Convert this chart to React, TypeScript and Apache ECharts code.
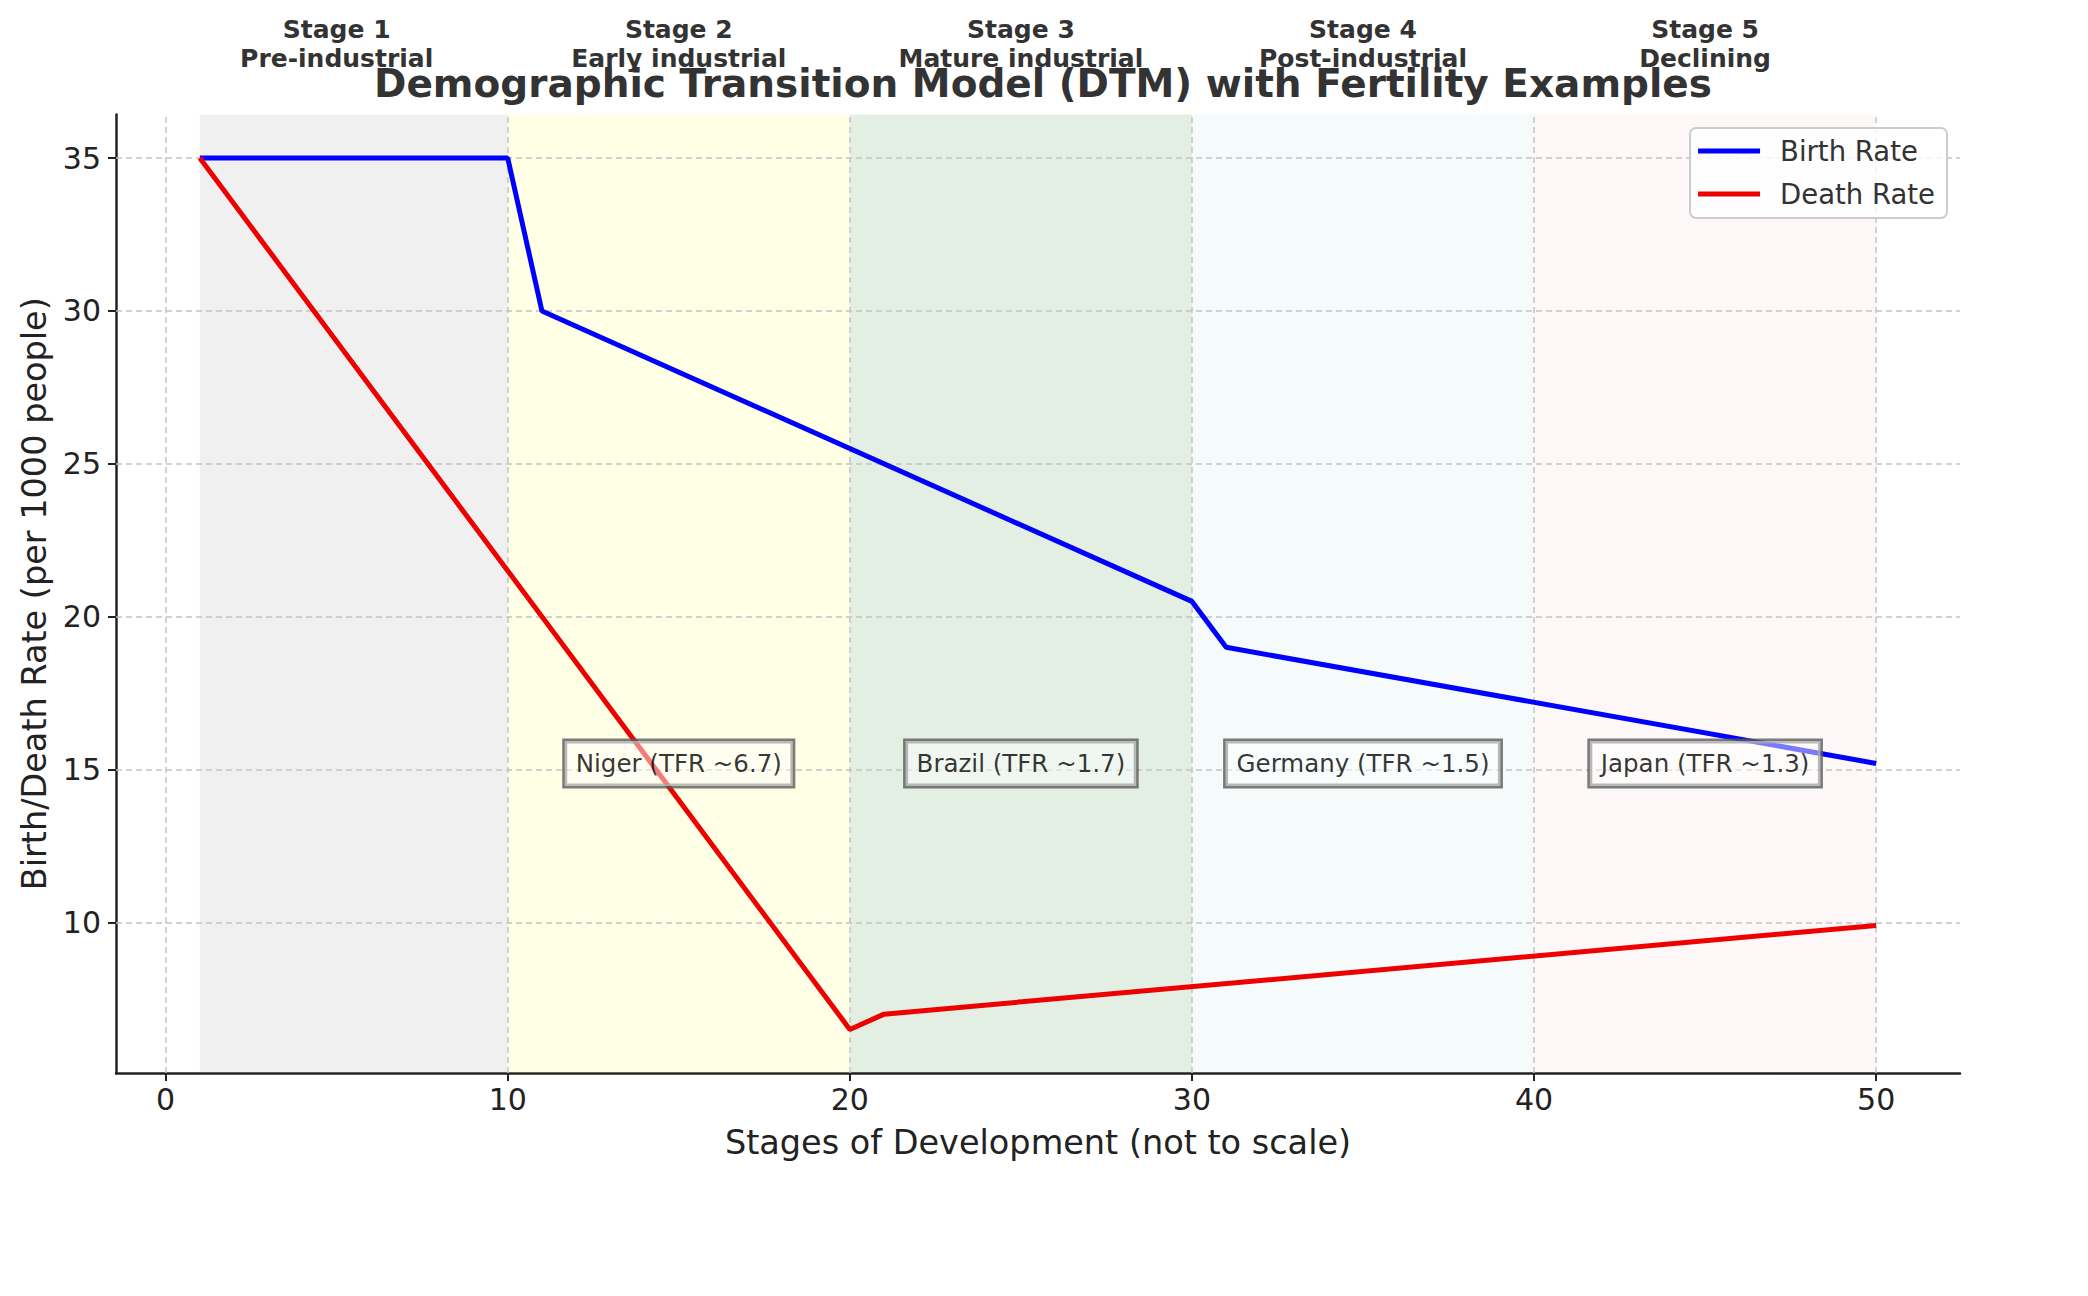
import React, { useEffect, useRef } from "react";
import * as echarts from "echarts";

const birthX = [1, 10, 11, 30, 31, 50];
const birthY = [35, 35, 30, 20.5, 19, 15.2];
const deathX = [1, 20, 21, 50];
const deathY = [35, 6.5, 7, 9.9];

const stageRanges = [
  [1, 10],
  [10, 20],
  [20, 30],
  [30, 40],
  [40, 50],
];
const stageCenters = [5, 15, 25, 35, 45];
const stageColors = [
  "rgba(128,128,128,0.12)",
  "rgba(255,255,0,0.10)",
  "rgba(0,110,0,0.11)",
  "rgba(0,160,160,0.04)",
  "rgba(220,0,0,0.03)",
];
const stageTitles = ["Stage 1", "Stage 2", "Stage 3", "Stage 4", "Stage 5"];
const stageNames = ["Pre-industrial", "Early industrial", "Mature industrial", "Post-industrial", "Declining"];

const exampleX = [15, 25, 35, 45];
const exampleY = [15, 15, 15, 15];
const exampleLabels = ["Niger (TFR ~6.7)", "Brazil (TFR ~1.7)", "Germany (TFR ~1.5)", "Japan (TFR ~1.3)"];

const xTicks = [0, 10, 20, 30, 40, 50];
const yTicks = [10, 15, 20, 25, 30, 35];

const FONT = "DejaVu Sans";

export default function App() {
  const ref = useRef<HTMLDivElement>(null);
  useEffect(() => {
    if (!ref.current) return;
    const chart = echarts.init(ref.current, null, { renderer: "svg" });
    const option: any = {
      animation: false,
      backgroundColor: "#ffffff",
      title: {
        text: "Demographic Transition Model (DTM) with Fertility Examples",
        left: 1038,
        textAlign: "center",
        top: 59,
        textStyle: { fontFamily: FONT, fontSize: 39, fontWeight: "bold", color: "#333333" },
      },
      grid: { left: 116, right: 128, top: 114.5, bottom: 223, containLabel: false },
      legend: {
        right: 141,
        top: 128,
        orient: "vertical",
        itemWidth: 62,
        itemHeight: 5,
        itemGap: 15,
        padding: [9, 12, 10, 8],
        backgroundColor: "rgba(255,255,255,0.8)",
        borderColor: "#cccccc",
        borderWidth: 2,
        borderRadius: 6,
        data: [
          { name: "Birth Rate", icon: "rect" },
          { name: "Death Rate", icon: "rect" },
        ],
        textStyle: { fontFamily: FONT, fontSize: 27.5, color: "#333333", padding: [0, 0, 0, 15] },
      },
      xAxis: {
        type: "value",
        min: -1.45,
        max: 52.45,
        name: "Stages of Development (not to scale)",
        nameLocation: "middle",
        nameGap: 52,
        nameTextStyle: { fontFamily: FONT, fontSize: 33.5, color: "#222222" },
        axisLine: { show: true, onZero: false, lineStyle: { color: "#222222", width: 2.5 } },
        axisTick: { show: true, inside: false, length: 8, customValues: xTicks, lineStyle: { color: "#222222", width: 2 } },
        axisLabel: { show: true, customValues: xTicks, margin: 11, fontFamily: FONT, fontSize: 30, color: "#222222" },
        splitLine: { show: false },
      },
      yAxis: {
        type: "value",
        min: 5.075,
        max: 36.425,
        name: "Birth/Death Rate (per 1000 people)",
        nameLocation: "middle",
        nameGap: 64,
        nameTextStyle: { fontFamily: FONT, fontSize: 33.5, color: "#222222" },
        axisLine: { show: true, onZero: false, lineStyle: { color: "#222222", width: 2.5 } },
        axisTick: { show: true, inside: false, length: 8, customValues: yTicks, lineStyle: { color: "#222222", width: 2 } },
        axisLabel: { show: true, customValues: yTicks, margin: 15, fontFamily: FONT, fontSize: 30, color: "#222222" },
        splitLine: { show: false },
      },
      series: [
        {
          name: "stages",
          type: "line",
          data: [],
          z: 1,
          silent: true,
          markArea: {
            silent: true,
            z: 1,
            data: stageRanges.map((r, i) => [
              { xAxis: r[0], itemStyle: { color: stageColors[i] } },
              { xAxis: r[1] },
            ]),
          },
        },
        {
          name: "grid",
          type: "line",
          data: [],
          z: 2,
          silent: true,
          markLine: {
            silent: true,
            z: 2,
            symbol: "none",
            label: { show: false },
            lineStyle: { type: [6, 4], color: "#c4c4c4", width: 1.5 },
            data: [...xTicks.map((v) => ({ xAxis: v })), ...yTicks.map((v) => ({ yAxis: v }))],
          },
        },
        {
          name: "Birth Rate",
          type: "line",
          z: 3,
          showSymbol: false,
          symbol: "none",
          color: "#0000ff",
          lineStyle: { color: "#0000ff", width: 5 },
          data: birthX.map((x, i) => [x, birthY[i]]),
        },
        {
          name: "Death Rate",
          type: "line",
          z: 3,
          showSymbol: false,
          symbol: "none",
          color: "#ee0000",
          lineStyle: { color: "#ee0000", width: 5 },
          data: deathX.map((x, i) => [x, deathY[i]]),
        },
        {
          name: "examples",
          type: "scatter",
          z: 5,
          symbolSize: 0,
          silent: true,
          data: exampleX.map((x, i) => [x, exampleY[i]]),
          label: {
            show: true,
            position: "inside",
            formatter: (p: any) => exampleLabels[p.dataIndex],
            fontFamily: FONT,
            fontSize: 24.5,
            color: "#000000",
            backgroundColor: "rgba(255,255,255,0.6)",
            borderColor: "#5a5a5a",
            borderWidth: 2.5,
            padding: [10, 11, 10, 11],
            offset: [0, -6],
          },
        },
      ],
    };
    chart.setOption(option);
    const graphics: any[] = [];
    stageCenters.forEach((c, i) => {
      const cx = chart.convertToPixel({ xAxisIndex: 0 }, c);
      graphics.push({
        type: "text",
        x: cx,
        y: 29.5,
        style: {
          text: stageTitles[i],
          fontFamily: FONT,
          fontSize: 25,
          fontWeight: "bold",
          fill: "#333333",
          textAlign: "center",
          textVerticalAlign: "middle",
        },
      });
      graphics.push({
        type: "text",
        x: cx,
        y: 58.5,
        style: {
          text: stageNames[i],
          fontFamily: FONT,
          fontSize: 25,
          fontWeight: "bold",
          fill: "#333333",
          textAlign: "center",
          textVerticalAlign: "middle",
        },
      });
    });
    chart.setOption({ graphic: graphics });
    return () => chart.dispose();
  }, []);
  return <div ref={ref} style={{ width: 2088, height: 1296, position: "absolute", left: 0, top: 0 }} />;
}
